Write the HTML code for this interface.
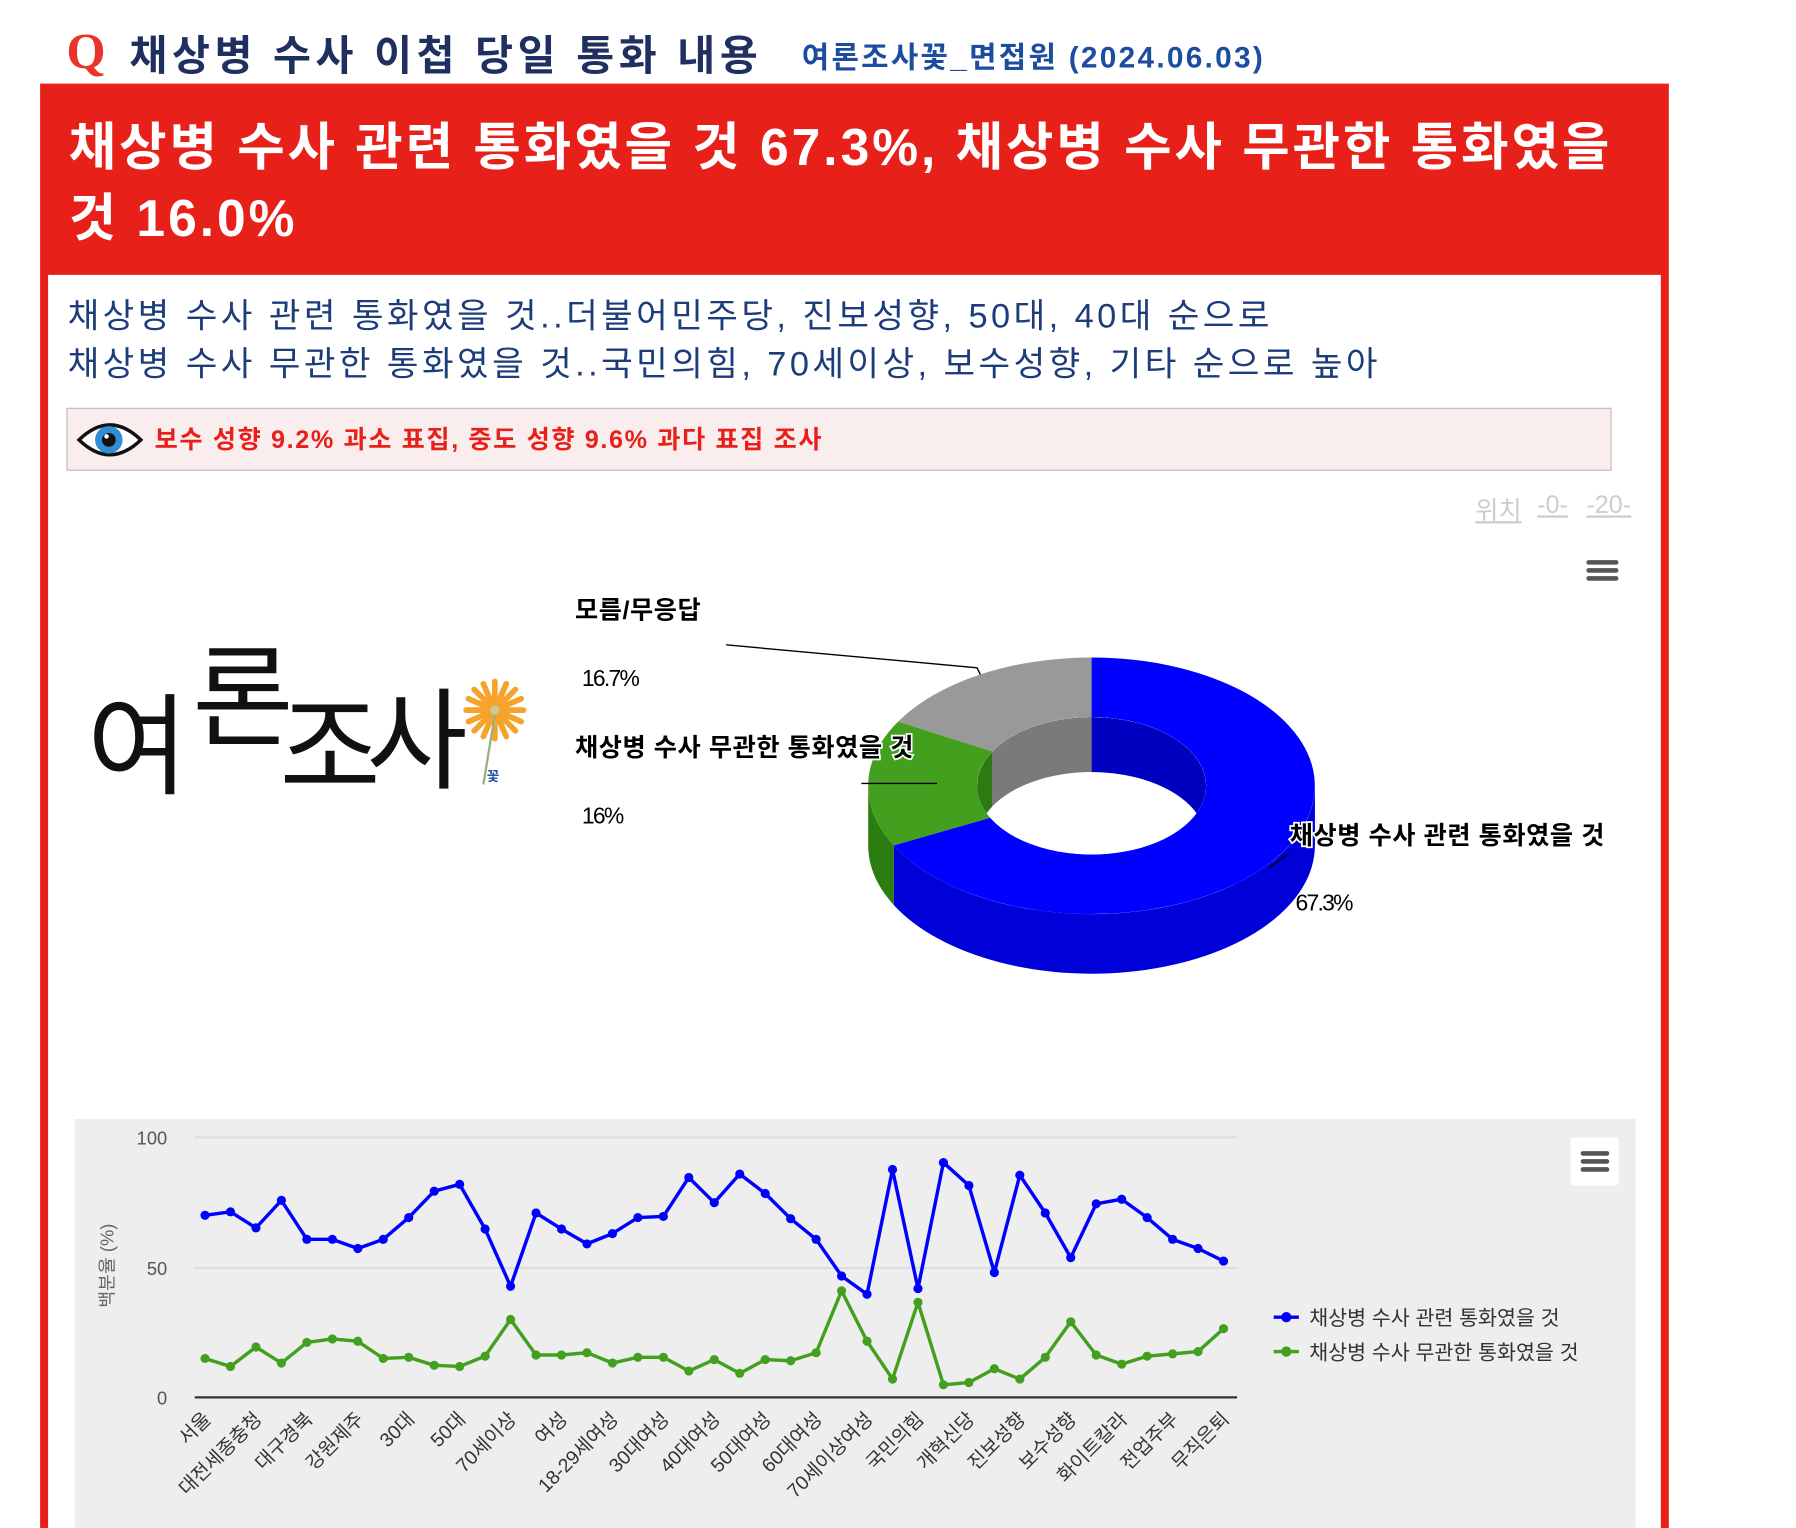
<!DOCTYPE html>
<html><head><meta charset="utf-8">
<style>
html,body{margin:0;padding:0;background:#fff;overflow:hidden}
body{width:1796px;height:1528px;position:relative}
#w{position:absolute;left:0;top:0;width:1568px;height:1334px;overflow:hidden;transform-origin:0 0;transform:scale(1.1454,1.1454);font-family:"Liberation Sans","Noto Sans CJK KR",sans-serif}
.a{position:absolute;white-space:nowrap}
.lg{position:absolute;font-size:96px;color:#111;line-height:100px;font-family:"Noto Sans CJK KR",sans-serif}
</style></head><body>
<div id="w">
<div class="a" style="left:58px;top:20px;font-size:44px;font-weight:bold;color:#e8342b;font-family:'Liberation Serif',serif">Q</div>
<div class="a" style="left:113px;top:20px;font-size:36px;font-weight:bold;color:#1f2f5f;letter-spacing:4px">채상병 수사 이첩 당일 통화 내용</div>
<div class="a" style="left:700px;top:30px;font-size:26px;font-weight:bold;color:#1c4d9e;letter-spacing:2px">여론조사꽃_면접원 (2024.06.03)</div>
<div class="a" style="left:35px;top:73px;width:1422px;height:1261px;background:#e8201a"></div>
<div class="a" style="left:42px;top:240px;width:1408px;height:1094px;background:#fff"></div>
<div class="a" style="left:60px;top:98px;font-size:45px;font-weight:bold;color:#fff;line-height:62px;letter-spacing:2.6px">채상병 수사 관련 통화였을 것 67.3%, 채상병 수사 무관한 통화였을<br>것 16.0%</div>
<div class="a" style="left:59px;top:256px;font-size:30px;color:#1d3c7a;line-height:42px;letter-spacing:3px">채상병 수사 관련 통화였을 것..더불어민주당, 진보성향, 50대, 40대 순으로<br>채상병 수사 무관한 통화였을 것..국민의힘, 70세이상, 보수성향, 기타 순으로 높아</div>
<div class="a" style="left:58px;top:356px;width:1347px;height:53px;background:#f9eded;border:1px solid #bbb"></div>
<svg class="a" style="left:66px;top:360px" width="60" height="48"><path d="M3,24 Q30,-2 57,24 Q30,50 3,24Z" fill="#fff" stroke="#111" stroke-width="3"/><circle cx="29" cy="24" r="12" fill="#2e8fd6"/><circle cx="29" cy="24" r="6" fill="#111"/><circle cx="27" cy="21" r="2" fill="#fff"/></svg>
<div class="a" style="left:135px;top:366px;font-size:22px;font-weight:bold;color:#e8201a;letter-spacing:1.4px">보수 성향 9.2% 과소 표집, 중도 성향 9.6% 과다 표집 조사</div>
<div class="a" style="left:1288px;top:428px;font-size:22px;color:#ccc;text-decoration:underline">위치</div>
<div class="a" style="left:1342px;top:428px;font-size:22px;color:#ccc;text-decoration:underline">-0-</div>
<div class="a" style="left:1385px;top:428px;font-size:22px;color:#ccc;text-decoration:underline">-20-</div>
<svg class="a" style="left:1385px;top:488px" width="30" height="24"><rect x="0" y="1" width="28" height="4" rx="2" fill="#555"/><rect x="0" y="8" width="28" height="4" rx="2" fill="#555"/><rect x="0" y="15" width="28" height="4" rx="2" fill="#555"/></svg>
<div class="lg" style="left:76px;top:595px">여</div>
<div class="lg" style="left:168px;top:552px">론</div>
<div class="lg" style="left:244px;top:596px">조</div>
<div class="lg" style="left:320px;top:590px">사</div>
<svg class="a" style="left:398px;top:590px" width="70" height="100">
<g stroke="#f5a32a" stroke-width="5" stroke-linecap="round">
<line x1="34" y1="5" x2="34" y2="55"/><line x1="9" y1="30" x2="59" y2="30"/><line x1="16" y1="12" x2="52" y2="48"/><line x1="52" y1="12" x2="16" y2="48"/><line x1="24" y1="7" x2="44" y2="53"/><line x1="44" y1="7" x2="24" y2="53"/><line x1="11" y1="20" x2="57" y2="40"/><line x1="11" y1="40" x2="57" y2="20"/></g>
<circle cx="34" cy="30" r="4" fill="#c9c9a0"/>
<path d="M34,34 L24,95" stroke="#9bb07a" stroke-width="2"/>
<text x="27" y="92" font-size="12" fill="#2c4fa8" font-weight="bold">꽃</text></svg>
<svg class="a" style="left:0;top:0" width="1568" height="1334">
<defs><clipPath id="hole"><ellipse cx="953" cy="686" rx="100" ry="60"/></clipPath></defs>
<path d="M1148,686 A195,112 0 0 1 780.3,738.1 L780.3,790.1 A195,112 0 0 0 1148,738 Z" fill="#0000d8"/>
<path d="M780.3,738.1 A195,112 0 0 1 758,686 L758,738 A195,112 0 0 0 780.3,790.1 Z" fill="#2b7d10"/>
<path d="M953,574 A195,112 0 1 1 780.3,738.1 L864.5,713.9 A100,60 0 1 0 953,626 Z" fill="#0000ff"/>
<path d="M780.3,738.1 A195,112 0 0 1 784.1,630 L866.4,656 A100,60 0 0 0 864.5,713.9 Z" fill="#43a01f"/>
<path d="M784.1,630 A195,112 0 0 1 953,574 L953,626 A100,60 0 0 0 866.4,656 Z" fill="#999"/>
<g clip-path="url(#hole)">
<rect x="850" y="620" width="210" height="130" fill="#fff"/>
<path d="M953,626 A100,60 0 0 1 1053,686 L1053,734 A100,60 0 0 0 953,674 Z" fill="#0000c0"/>
<path d="M866.4,656 A100,60 0 0 1 953,626 L953,674 A100,60 0 0 0 866.4,704 Z" fill="#7a7a7a"/>
<path d="M853,686 A100,60 0 0 1 866.4,656 L866.4,704 A100,60 0 0 0 853,734 Z" fill="#2d7a14"/>
</g>
<g fill="none" stroke="#000" stroke-width="1.2"><path d="M634,563 L853,583 L856,589"/><path d="M752,684 L818,684"/><path d="M1108,758 L1125,745"/></g>
<g font-size="22" font-weight="bold" fill="#000" stroke="#fff" stroke-width="3" paint-order="stroke" letter-spacing="0.5">
<text x="502" y="540">모름/무응답</text><text x="502" y="660">채상병 수사 무관한 통화였을 것</text><text x="1126" y="737">채상병 수사 관련 통화였을 것</text></g>
<g font-size="20" fill="#000" letter-spacing="-1.5"><text x="508" y="599">16.7%</text><text x="508" y="719">16%</text><text x="1131" y="795">67.3%</text></g>
<rect x="65" y="977" width="1363" height="357" fill="#eeeeee"/>
<line x1="170" y1="993" x2="1080" y2="993" stroke="#dedede" stroke-width="2"/>
<line x1="170" y1="1107" x2="1080" y2="1107" stroke="#dedede" stroke-width="2"/>
<line x1="170" y1="1220" x2="1080" y2="1220" stroke="#333" stroke-width="2"/>
<g font-size="16" fill="#555" text-anchor="end"><text x="146" y="999">100</text><text x="146" y="1113">50</text><text x="146" y="1226">0</text></g>
<text transform="translate(99,1105) rotate(-90)" font-size="16" fill="#666" text-anchor="middle">백분율 (%)</text>
<rect x="1371" y="993" width="42" height="42" rx="3" fill="#fff"/>
<g fill="#555"><rect x="1380" y="1005" width="25" height="4" rx="2"/><rect x="1380" y="1012" width="25" height="4" rx="2"/><rect x="1380" y="1019" width="25" height="4" rx="2"/></g>
<polyline id="b" fill="none" stroke="#0000ff" stroke-width="3" stroke-linejoin="round" points=""/>
<polyline id="g" fill="none" stroke="#43a01f" stroke-width="3" stroke-linejoin="round" points=""/>
<g id="m"></g>
<line x1="1112" y1="1150" x2="1134" y2="1150" stroke="#0000ff" stroke-width="3"/><circle cx="1123" cy="1150" r="4.5" fill="#0000ff"/>
<line x1="1112" y1="1180" x2="1134" y2="1180" stroke="#43a01f" stroke-width="3"/><circle cx="1123" cy="1180" r="4.5" fill="#43a01f"/>
<g font-size="18" fill="#333"><text x="1143" y="1157">채상병 수사 관련 통화였을 것</text><text x="1143" y="1187">채상병 수사 무관한 통화였을 것</text></g>
<g id="xl" font-size="17" fill="#333" text-anchor="end"></g>
</svg>
</div>
<script>
var B=[1061,1058,1072,1048,1082,1082,1090,1082,1063,1040,1034,1073,1123,1059,1073,1086,1077,1063,1062,1028,1050,1025,1042,1064,1082,1114,1130,1021,1125,1015,1035,1111,1026,1059,1098,1051,1047,1063,1082,1090,1101];
var G=[1186,1193,1176,1190,1172,1169,1171,1186,1185,1192,1193,1184,1152,1183,1183,1181,1190,1185,1185,1197,1187,1199,1187,1188,1181,1127,1171,1204,1137,1209,1207,1195,1204,1185,1154,1183,1191,1184,1182,1180,1160];
var L=["서울","대전세종충청","대구경북","강원제주","30대","50대","70세이상","여성","18-29세여성","30대여성","40대여성","50대여성","60대여성","70세이상여성","국민의힘","개혁신당","진보성향","보수성향","화이트칼라","전업주부","무직은퇴"];
var ns="http://www.w3.org/2000/svg",pb=[],pg=[],m=document.getElementById('m'),xl=document.getElementById('xl');
for(var i=0;i<41;i++){var x=179+i*22.23;pb.push(x+","+B[i]);pg.push(x+","+G[i]);
[[B[i],"#0000ff"],[G[i],"#43a01f"]].forEach(function(p){var c=document.createElementNS(ns,"circle");c.setAttribute("cx",x);c.setAttribute("cy",p[0]);c.setAttribute("r",4);c.setAttribute("fill",p[1]);m.appendChild(c);});
if(i%2==0){var t=document.createElementNS(ns,"text");t.setAttribute("transform","translate("+(x+6)+",1240) rotate(-45)");t.textContent=L[i/2];xl.appendChild(t);}}
document.getElementById('b').setAttribute("points",pb.join(" "));
document.getElementById('g').setAttribute("points",pg.join(" "));
</script>
</body></html>
